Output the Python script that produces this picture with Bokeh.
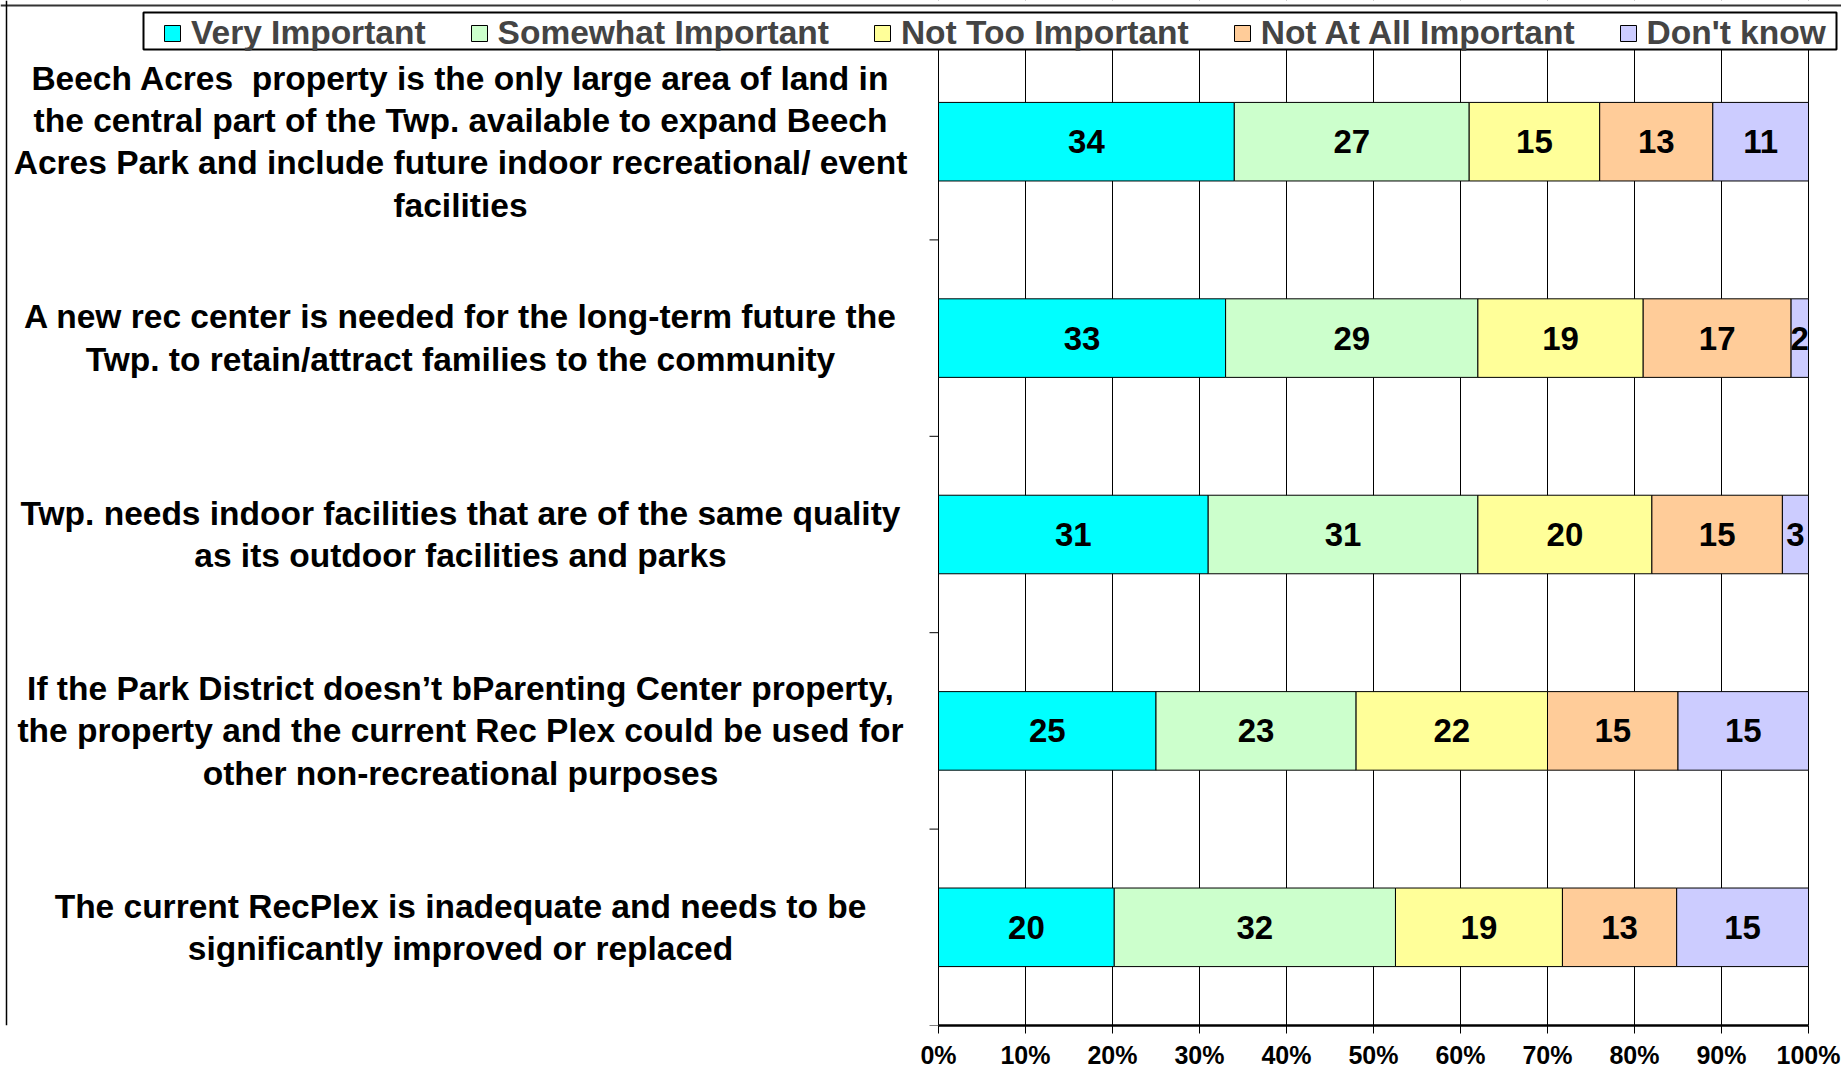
from bokeh.plotting import figure
from bokeh.models import (Range1d, FixedTicker, Legend, LegendItem, ColumnDataSource,
                          Span, BoxAnnotation)
from bokeh.core.properties import value
from bokeh.embed import file_html
from bokeh.resources import INLINE

# ---------------- data ----------------
statements = [
    "Beech Acres\u00a0 property is the only large area of land in\nthe central part of the Twp. available to expand Beech\nAcres Park and include future indoor recreational/ event\nfacilities",
    "A new rec center is needed for the long-term future the\nTwp. to retain/attract families to the community",
    "Twp. needs indoor facilities that are of the same quality\nas its outdoor facilities and parks",
    "If the Park District doesn\u2019t bParenting Center property,\nthe property and the current Rec Plex could be used for\nother non-recreational purposes",
    "The current RecPlex is inadequate and needs to be\nsignificantly improved or replaced",
]
series_names = ["Very Important", "Somewhat Important", "Not Too Important",
                "Not At All Important", "Don't know"]
very_important = [34, 33, 31, 25, 20]
somewhat_important = [27, 29, 31, 23, 32]
not_too_important = [15, 19, 20, 22, 19]
not_at_all_important = [13, 17, 15, 15, 13]
dont_know = [11, 2, 3, 15, 15]
series_values = [very_important, somewhat_important, not_too_important,
                 not_at_all_important, dont_know]
x_ticks = [0, 10, 20, 30, 40, 50, 60, 70, 80, 90, 100]
x_tick_labels = ["0%", "10%", "20%", "30%", "40%", "50%", "60%", "70%", "80%", "90%", "100%"]

colors = ["#00FFFF", "#CCFFCC", "#FFFF99", "#FFCC99", "#CCCCFF"]
FONT_NAME = "Liberation Sans"
FONT = value(FONT_NAME)

# ---------------- layout geometry (pixels) ----------------
W, H = 1841, 1076
FRAME_BOTTOM = 1025
frame_w = W
frame_h = FRAME_BOTTOM
zero_px = 938          # 0% position from frame left
plot_px = 870          # width of 0..100%
band_top_px = 43       # top of first category band
legend_bottom_px = 52  # bottom edge of legend items

n = len(statements)
px_per_unit = plot_px / 100.0
x_min = -zero_px / px_per_unit
x_max = (frame_w - zero_px) / px_per_unit
band_px = (frame_h - band_top_px) / n
y_start = n - 0.5
y_end = y_start - frame_h / band_px


def y_at(px):
    return y_end + px / band_px


def x_at(px):
    return x_min + px / px_per_unit


ypos = list(range(n))
totals = [sum(s[i] for s in series_values) for i in range(n)]

p = figure(width=W, height=H,
           x_range=Range1d(x_min, x_max), y_range=Range1d(y_start, y_end),
           output_backend="svg", toolbar_location=None, y_axis_location=None,
           min_border_left=0, min_border_right=0,
           min_border_top=0, min_border_bottom=H - FRAME_BOTTOM)
p.outline_line_color = None
p.background_fill_color = "white"
p.border_fill_color = "white"

# stacked 100% bars
cum = [0.0] * n
renderers = []
for j, vals in enumerate(series_values):
    left = [cum[i] for i in range(n)]
    right = [cum[i] + vals[i] / totals[i] * 100.0 for i in range(n)]
    cum = right
    src = ColumnDataSource(dict(y=ypos, left=left, right=right,
                                mid=[(a + b) / 2 for a, b in zip(left, right)],
                                lab=[str(v) for v in vals]))
    r = p.hbar(y="y", left="left", right="right", height=0.4, source=src,
               fill_color=colors[j], line_color="black", line_width=1)
    renderers.append(r)
    p.text(x="mid", y="y", text="lab", source=src, text_align="center",
           text_baseline="middle", text_font=FONT, text_font_style="bold",
           text_font_size="33px", text_color="black")

# category labels on the left (centred, multi-line)
label_x = -(938 - 460) / px_per_unit
lab_src = ColumnDataSource(dict(x=[label_x] * n, y=ypos, text=statements))
p.text(x="x", y="y", text="text", source=lab_src, text_align="center",
       text_baseline="middle", text_font=FONT, text_font_style="bold",
       text_font_size="33.5px", text_line_height=1.145, text_color="black")

# category boundary ticks left of the 0% line
bounds_y = [i + 0.5 for i in range(n)]
p.segment(x0=[-9 / px_per_unit] * n, x1=[0] * n, y0=bounds_y, y1=bounds_y,
          line_color="black", line_width=1)

# x axis
p.xaxis.bounds = (0, 100)
p.xaxis.ticker = FixedTicker(ticks=x_ticks)
p.xaxis.major_label_overrides = {t: l for t, l in zip(x_ticks, x_tick_labels)}
p.xaxis.major_label_text_font = FONT_NAME
p.xaxis.major_label_text_font_style = "bold"
p.xaxis.major_label_text_font_size = "25px"
p.xaxis.major_label_text_color = "black"
p.xaxis.axis_line_width = 2.5
p.xaxis.axis_line_color = "black"
p.xaxis.major_tick_out = 8
p.xaxis.major_tick_in = 0
p.xaxis.major_tick_line_color = "black"
p.xaxis.minor_tick_line_color = None
p.xaxis.major_label_standoff = 7

p.xgrid.ticker = FixedTicker(ticks=x_ticks)
p.xgrid.grid_line_color = "black"
p.xgrid.grid_line_width = 1
p.xgrid.grid_line_alpha = 1
p.ygrid.visible = False

# white strip above the legend (hides grid there) and chart-area border
p.add_layout(BoxAnnotation(left=x_min, right=x_max, top=y_end, bottom=y_at(12),
                           fill_color="white", fill_alpha=1, line_color=None))
p.add_layout(Span(location=y_at(5), dimension="width",
                  line_color="#333333", line_width=2))
p.add_layout(Span(location=x_at(6), dimension="height",
                  line_color="black", line_width=1.5))

# legend frame
p.add_layout(BoxAnnotation(left=x_at(143), right=x_at(1836), top=y_at(12), bottom=y_at(49),
                           fill_color="white", fill_alpha=1,
                           line_color="black", line_width=2, line_alpha=1))

legend = Legend(items=[LegendItem(label=nm, renderers=[r]) for nm, r in zip(series_names, renderers)],
                orientation="horizontal", location=(162, frame_h - legend_bottom_px))
legend.margin = 0
legend.padding = 0
legend.spacing = 43
legend.label_standoff = 9
legend.glyph_width = 20
legend.glyph_height = 20
legend.label_text_font = FONT_NAME
legend.label_text_font_style = "bold"
legend.label_text_font_size = "33.5px"
legend.label_text_line_height = 1.0
legend.border_line_color = None
legend.background_fill_alpha = 0
p.add_layout(legend)

open("out.html", "w").write(file_html(p, INLINE))
